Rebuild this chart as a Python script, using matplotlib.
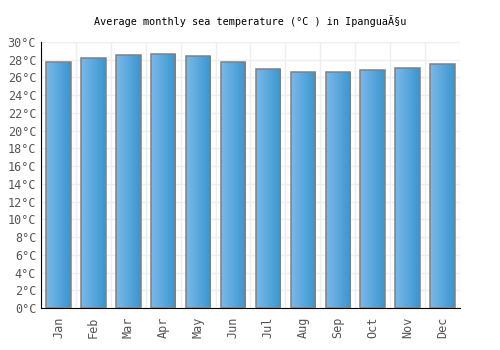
import numpy as np
import matplotlib
matplotlib.use('Agg')
import matplotlib.pyplot as plt
from matplotlib.colors import LinearSegmentedColormap

# Daten
months = ['Jan', 'Feb', 'Mar', 'Apr', 'May', 'Jun', 'Jul', 'Aug', 'Sep', 'Oct', 'Nov', 'Dec']
temps = [27.8, 28.2, 28.5, 28.7, 28.4, 27.8, 27.0, 26.6, 26.6, 26.8, 27.1, 27.5]
yticks = list(range(0, 31, 2))

plt.rcParams['font.family'] = ['DejaVu Sans Mono']

fig = plt.figure(figsize=(5, 3.5), dpi=100)
ax = fig.add_axes([0.082, 0.12, 0.838, 0.76])

x = np.arange(len(months))
bars = ax.bar(x, temps, width=0.7, color='none', edgecolor='#808080', linewidth=1.1, zorder=3)

# Farbverlauf in den Balken
cmap = LinearSegmentedColormap.from_list('blau', ['#7bb9ea', '#3a96cf'])
grad = np.linspace(0, 1, 64).reshape(1, -1)
for b in bars:
    im = ax.imshow(grad, cmap=cmap, aspect='auto', zorder=2,
                   extent=[b.get_x(), b.get_x() + b.get_width(), 0, b.get_height()])
    im.set_clip_path(b)

ax.set_xlim(-0.5, len(months) - 0.5)
ax.set_ylim(0, 30)
ax.set_yticks(yticks)
ax.set_yticklabels([f'{t}°C' for t in yticks])
ax.set_xticks(x)
ax.set_xticklabels(months, rotation=90)

# Gitter an den Kategoriegrenzen
ax.set_xticks(np.arange(-0.5, len(months), 1), minor=True)
ax.grid(True, which='minor', axis='x', color='#eeeeee', linewidth=1, zorder=0)
ax.grid(True, which='major', axis='y', color='#eeeeee', linewidth=1, zorder=0)
ax.tick_params(axis='both', which='both', length=0, labelsize=8.5, labelcolor='#555555')
ax.tick_params(axis='x', pad=6)

for s in ['top', 'right']:
    ax.spines[s].set_visible(False)
ax.spines['left'].set_color('black')
ax.spines['bottom'].set_color('black')

ax.set_title('Average monthly sea temperature (°C ) in IpanguaÃ§u', fontsize=7.3, pad=12)

fig.savefig('out.png', dpi=100)
